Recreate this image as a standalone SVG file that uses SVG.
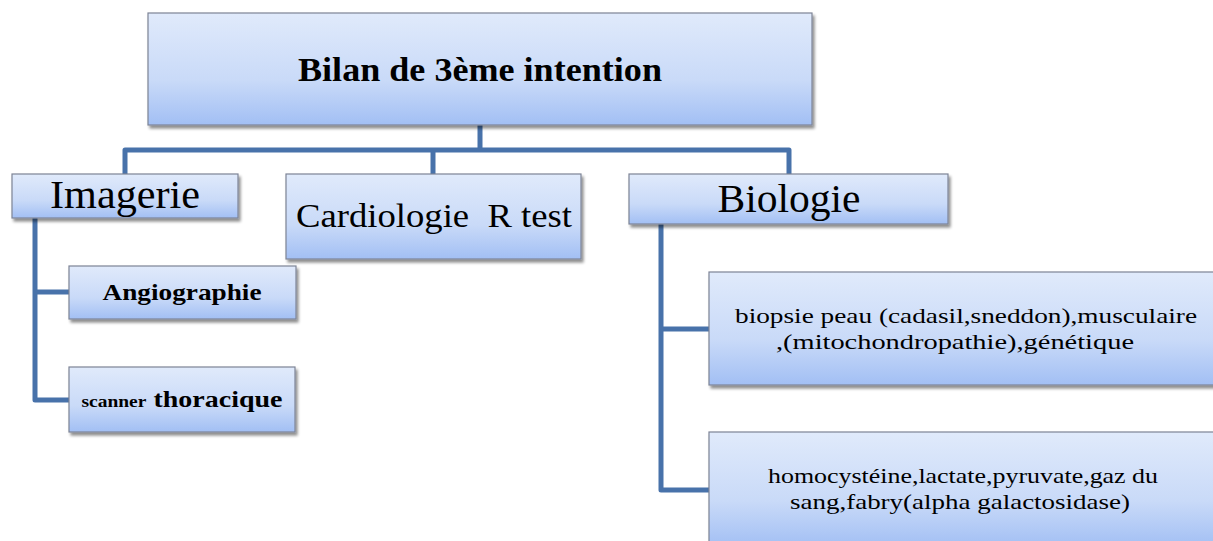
<svg xmlns="http://www.w3.org/2000/svg" width="1213" height="541" viewBox="0 0 1213 541">
<style>
.box{fill:url(#g);stroke:#7d8496;stroke-width:1.2;filter:url(#sh)}
.c{fill:none;stroke:#4872aa;stroke-width:5;stroke-linejoin:round}
</style>
<defs>
<linearGradient id="g" x1="0" y1="0" x2="0" y2="1">
<stop offset="0" stop-color="#e0eafb"/>
<stop offset="0.6" stop-color="#c9daf8"/>
<stop offset="1" stop-color="#a2bff4"/>
</linearGradient>
<filter id="sh" x="-5%" y="-10%" width="115%" height="130%">
<feGaussianBlur in="SourceAlpha" stdDeviation="1.5"/>
<feOffset dx="2" dy="3" result="b"/>
<feComponentTransfer><feFuncA type="linear" slope="0.45"/></feComponentTransfer>
<feMerge><feMergeNode/><feMergeNode in="SourceGraphic"/></feMerge>
</filter>
</defs>
<rect width="1213" height="541" fill="#fff"/>
<g id="connectors">
<path class="c" d="M480 125V150M125 174V150H789V174M433 150V174"/>
<path class="c" d="M35 218V400H69M35 292H69"/>
<path class="c" d="M661 224V490H709M661 329H709"/>
</g>
<g id="title">
<rect class="box" x="148" y="13" width="664" height="112"/>
<text style="font-family:'Liberation Serif'" text-anchor="middle" x="480" y="81" font-size="33" font-weight="bold" textLength="364" lengthAdjust="spacingAndGlyphs">Bilan de 3ème intention</text>
</g>
<g id="imagerie">
<rect class="box" x="12" y="174" width="226" height="44"/>
<text style="font-family:'Liberation Serif'" text-anchor="middle" x="125" y="208" font-size="40" textLength="150" lengthAdjust="spacingAndGlyphs">Imagerie</text>
</g>
<g id="cardiologie">
<rect class="box" x="286" y="174" width="295" height="85"/>
<text style="font-family:'Liberation Serif'" text-anchor="middle" x="434" y="227" font-size="33" xml:space="preserve" textLength="276" lengthAdjust="spacingAndGlyphs">Cardiologie  R test</text>
</g>
<g id="biologie">
<rect class="box" x="629" y="174" width="319" height="50"/>
<text style="font-family:'Liberation Serif'" text-anchor="middle" x="789" y="212" font-size="40" textLength="143" lengthAdjust="spacingAndGlyphs">Biologie</text>
</g>
<g id="angiographie">
<rect class="box" x="69" y="266" width="227" height="53"/>
<text style="font-family:'Liberation Serif'" text-anchor="middle" x="182" y="300" font-size="23" font-weight="bold" textLength="159" lengthAdjust="spacingAndGlyphs">Angiographie</text>
</g>
<g id="scanner">
<rect class="box" x="69" y="367" width="226" height="65"/>
<text style="font-family:'Liberation Serif'" text-anchor="middle" x="182" y="407" font-size="23" font-weight="bold" textLength="201" lengthAdjust="spacingAndGlyphs"><tspan font-size="16">scanner</tspan> thoracique</text>
</g>
<g id="biopsie">
<rect class="box" x="709" y="272" width="510" height="113"/>
<text style="font-family:'Liberation Serif'" text-anchor="middle" x="966" y="323" font-size="21" textLength="462" lengthAdjust="spacingAndGlyphs">biopsie peau (cadasil,sneddon),musculaire</text>
<text style="font-family:'Liberation Serif'" text-anchor="middle" x="955" y="349" font-size="21" textLength="358" lengthAdjust="spacingAndGlyphs">,(mitochondropathie),génétique</text>
</g>
<g id="homocysteine">
<rect class="box" x="709" y="432" width="510" height="115"/>
<text style="font-family:'Liberation Serif'" text-anchor="middle" x="963" y="483" font-size="21" textLength="390" lengthAdjust="spacingAndGlyphs">homocystéine,lactate,pyruvate,gaz du</text>
<text style="font-family:'Liberation Serif'" text-anchor="middle" x="960" y="509" font-size="21" textLength="340" lengthAdjust="spacingAndGlyphs">sang,fabry(alpha galactosidase)</text>
</g>
</svg>
